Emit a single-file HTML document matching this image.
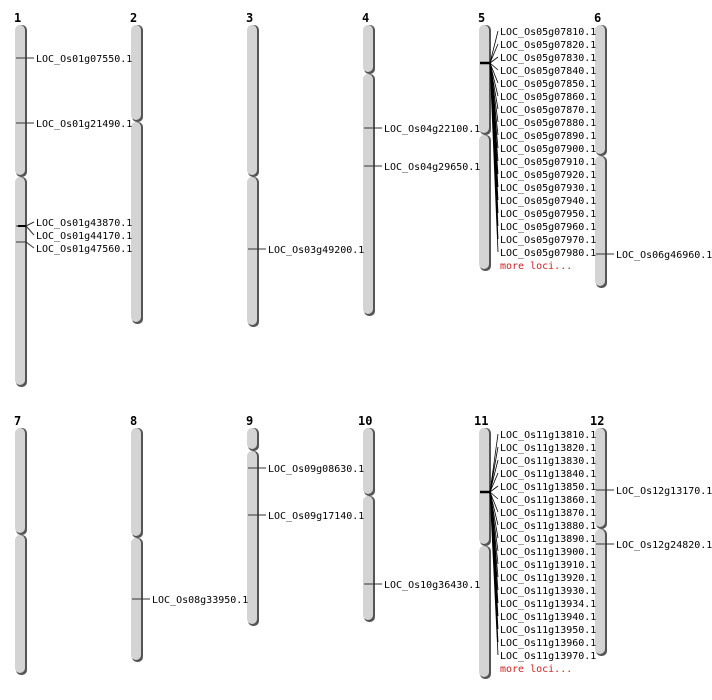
<!DOCTYPE html>
<html><head><style>body{margin:0;background:#fff}svg{display:block}text{font-family:"DejaVu Sans Mono","Liberation Mono",monospace;font-size:10px}.n{font-weight:bold;font-size:12px}.r{fill:#d02020}</style></head><body>
<svg width="712" height="700" viewBox="0 0 712 700">
<defs>
<g id="s"></g>
</defs>
<g fill="#555">
<rect x="16" y="25" width="11" height="152" rx="5"/><rect x="16" y="177" width="11" height="210" rx="5"/>
<rect x="132" y="25" width="11" height="97" rx="5"/><rect x="132" y="122" width="11" height="202" rx="5"/>
<rect x="248" y="25" width="11" height="152" rx="5"/><rect x="248" y="177" width="11" height="150" rx="5"/>
<rect x="364" y="25" width="11" height="49" rx="5"/><rect x="364" y="74" width="11" height="242" rx="5"/>
<rect x="480" y="25" width="11" height="110" rx="5"/><rect x="480" y="135" width="11" height="136" rx="5"/>
<rect x="596" y="25" width="11" height="131" rx="5"/><rect x="596" y="156" width="11" height="132" rx="5"/>
<rect x="16" y="428" width="11" height="107" rx="5"/><rect x="16" y="535" width="11" height="140" rx="5"/>
<rect x="132" y="428" width="11" height="110" rx="5"/><rect x="132" y="538" width="11" height="124" rx="5"/>
<rect x="248" y="428" width="11" height="23" rx="5"/><rect x="248" y="451" width="11" height="175" rx="5"/>
<rect x="364" y="428" width="11" height="68" rx="5"/><rect x="364" y="496" width="11" height="126" rx="5"/>
<rect x="480" y="428" width="11" height="118" rx="5"/><rect x="480" y="546" width="11" height="133" rx="5"/>
<rect x="596" y="428" width="11" height="101" rx="5"/><rect x="596" y="529" width="11" height="127" rx="5"/>
</g>
<g fill="#d4d4d4">
<rect x="15" y="25" width="10" height="150" rx="5"/><rect x="15" y="177" width="10" height="208" rx="5"/>
<rect x="131" y="25" width="10" height="95" rx="5"/><rect x="131" y="122" width="10" height="200" rx="5"/>
<rect x="247" y="25" width="10" height="150" rx="5"/><rect x="247" y="177" width="10" height="148" rx="5"/>
<rect x="363" y="25" width="10" height="47" rx="5"/><rect x="363" y="74" width="10" height="240" rx="5"/>
<rect x="479" y="25" width="10" height="108" rx="5"/><rect x="479" y="135" width="10" height="134" rx="5"/>
<rect x="595" y="25" width="10" height="129" rx="5"/><rect x="595" y="156" width="10" height="130" rx="5"/>
<rect x="15" y="428" width="10" height="105" rx="5"/><rect x="15" y="535" width="10" height="138" rx="5"/>
<rect x="131" y="428" width="10" height="108" rx="5"/><rect x="131" y="538" width="10" height="122" rx="5"/>
<rect x="247" y="428" width="10" height="21" rx="5"/><rect x="247" y="451" width="10" height="173" rx="5"/>
<rect x="363" y="428" width="10" height="66" rx="5"/><rect x="363" y="496" width="10" height="124" rx="5"/>
<rect x="479" y="428" width="10" height="116" rx="5"/><rect x="479" y="546" width="10" height="131" rx="5"/>
<rect x="595" y="428" width="10" height="99" rx="5"/><rect x="595" y="529" width="10" height="125" rx="5"/>
</g>
<g>
<text class="n" x="14" y="22">1</text><text class="n" x="130" y="22">2</text><text class="n" x="246" y="22">3</text><text class="n" x="362" y="22">4</text><text class="n" x="478" y="22">5</text><text class="n" x="594" y="22">6</text>
<text class="n" x="14" y="425">7</text><text class="n" x="130" y="425">8</text><text class="n" x="246" y="425">9</text><text class="n" x="358" y="425">10</text><text class="n" x="474" y="425">11</text><text class="n" x="590" y="425">12</text>
</g>
<g stroke="#333" stroke-width="1" fill="none">
<path d="M16 58H34M16 123H34M16 226H26L34 222M26 226L34 235M16 242H26L34 248M248 249H266M364 128H382M364 166H382M596 254H614M132 599H150M248 468H266M248 515H266M364 584H382M596 490H614M596 544H614"/>
<path d="M18 226H26" stroke="#000" stroke-width="2"/>
</g>
<g font-size="10">
<text x="36" y="62">LOC_Os01g07550.1</text><text x="36" y="127">LOC_Os01g21490.1</text>
<text x="36" y="226">LOC_Os01g43870.1</text><text x="36" y="239">LOC_Os01g44170.1</text><text x="36" y="252">LOC_Os01g47560.1</text>
<text x="268" y="253">LOC_Os03g49200.1</text>
<text x="384" y="132">LOC_Os04g22100.1</text><text x="384" y="170">LOC_Os04g29650.1</text>
<text x="616" y="258">LOC_Os06g46960.1</text>
<text x="152" y="603">LOC_Os08g33950.1</text>
<text x="268" y="472">LOC_Os09g08630.1</text><text x="268" y="519">LOC_Os09g17140.1</text>
<text x="384" y="588">LOC_Os10g36430.1</text>
<text x="616" y="494">LOC_Os12g13170.1</text><text x="616" y="548">LOC_Os12g24820.1</text>
</g>
<path d="M480 63H490" stroke="#000" stroke-width="2.5"/>
<g stroke="#000" stroke-width="0.8" fill="none">
<path d="M490 63L498 31M490 63L498 44M490 63L498 57M490 63L498 70M490 63L498 83M490 63L498 96M490 63L498 109M490 63L498 122M490 63L498 135M490 63L498 148M490 63L498 161M490 63L498 174M490 63L498 187M490 63L498 200M490 63L498 213M490 63L498 226M490 63L498 239M490 63L498 252"/>
</g>
<g>
<text x="500" y="35">LOC_Os05g07810.1</text><text x="500" y="48">LOC_Os05g07820.1</text><text x="500" y="61">LOC_Os05g07830.1</text><text x="500" y="74">LOC_Os05g07840.1</text><text x="500" y="87">LOC_Os05g07850.1</text><text x="500" y="100">LOC_Os05g07860.1</text><text x="500" y="113">LOC_Os05g07870.1</text><text x="500" y="126">LOC_Os05g07880.1</text><text x="500" y="139">LOC_Os05g07890.1</text><text x="500" y="152">LOC_Os05g07900.1</text><text x="500" y="165">LOC_Os05g07910.1</text><text x="500" y="178">LOC_Os05g07920.1</text><text x="500" y="191">LOC_Os05g07930.1</text><text x="500" y="204">LOC_Os05g07940.1</text><text x="500" y="217">LOC_Os05g07950.1</text><text x="500" y="230">LOC_Os05g07960.1</text><text x="500" y="243">LOC_Os05g07970.1</text><text x="500" y="256">LOC_Os05g07980.1</text>
<text class="r" x="500" y="269">more loci...</text>
</g>
<path d="M480 492H490" stroke="#000" stroke-width="2.5"/>
<g stroke="#000" stroke-width="0.8" fill="none">
<path d="M490 492L498 434M490 492L498 447M490 492L498 460M490 492L498 473M490 492L498 486M490 492L498 499M490 492L498 512M490 492L498 525M490 492L498 538M490 492L498 551M490 492L498 564M490 492L498 577M490 492L498 590M490 492L498 603M490 492L498 616M490 492L498 629M490 492L498 642M490 492L498 655"/>
</g>
<g>
<text x="500" y="438">LOC_Os11g13810.1</text><text x="500" y="451">LOC_Os11g13820.1</text><text x="500" y="464">LOC_Os11g13830.1</text><text x="500" y="477">LOC_Os11g13840.1</text><text x="500" y="490">LOC_Os11g13850.1</text><text x="500" y="503">LOC_Os11g13860.1</text><text x="500" y="516">LOC_Os11g13870.1</text><text x="500" y="529">LOC_Os11g13880.1</text><text x="500" y="542">LOC_Os11g13890.1</text><text x="500" y="555">LOC_Os11g13900.1</text><text x="500" y="568">LOC_Os11g13910.1</text><text x="500" y="581">LOC_Os11g13920.1</text><text x="500" y="594">LOC_Os11g13930.1</text><text x="500" y="607">LOC_Os11g13934.1</text><text x="500" y="620">LOC_Os11g13940.1</text><text x="500" y="633">LOC_Os11g13950.1</text><text x="500" y="646">LOC_Os11g13960.1</text><text x="500" y="659">LOC_Os11g13970.1</text>
<text class="r" x="500" y="672">more loci...</text>
</g>
</svg>
</body></html>
